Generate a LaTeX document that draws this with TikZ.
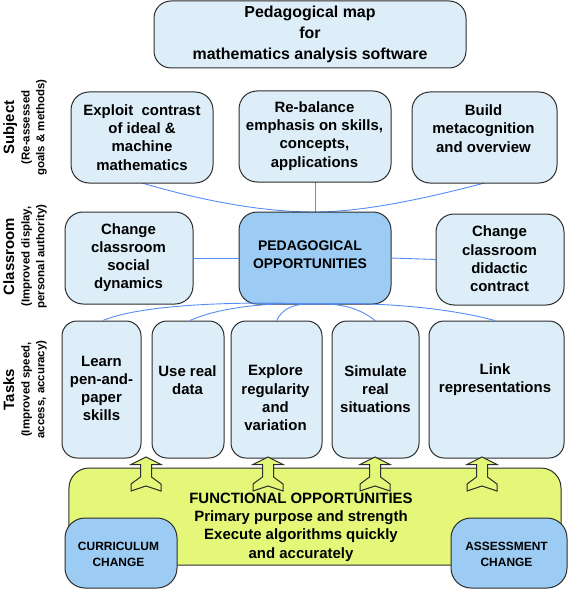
\documentclass[tikz,border=0pt]{standalone}
\usepackage{fontspec}
\setmainfont{Liberation Sans}
\definecolor{boxfill}{RGB}{221,238,248}
\definecolor{midfill}{RGB}{156,203,243}
\definecolor{yelfill}{RGB}{228,247,120}
\definecolor{edgegray}{RGB}{45,45,45}
\definecolor{linkblue}{RGB}{85,140,245}
\newcommand\mfBox{\fontsize{15}{18.3}\selectfont\bfseries}
\newcommand\mfTitle{\fontsize{16}{21}\selectfont\bfseries}
\newcommand\mfCaps{\fontsize{14}{17.5}\selectfont\bfseries}
\newcommand\mfSmall{\fontsize{12}{16}\selectfont\bfseries}
\newcommand\mfSide{\fontsize{15}{18}\selectfont\bfseries}
\newcommand\mfSub{\fontsize{11.5}{15}\selectfont\bfseries}
\begin{document}
\begin{tikzpicture}[x=1bp,y=-1bp,
  panel/.style={draw=edgegray, line width=1bp, rounded corners=15bp, fill=boxfill, inner sep=0pt, outer sep=0pt},
  darkpanel/.style={panel, fill=midfill},
  txt/.style={align=center, font=\mfBox, inner sep=0pt},
  sidemain/.style={rotate=90, anchor=north, font=\mfSide, inner sep=0pt},
  sidesub/.style={rotate=90, anchor=north, align=center, font=\mfSub, inner sep=0pt},
  linkline/.style={draw=linkblue, line width=0.9bp},
  uparrow/.style={draw=edgegray, line width=1bp, fill=yelfill, line join=miter}]
\useasboundingbox (0,0) rectangle (568,589);

% ---- title
\node[panel, minimum width=312bp, minimum height=67bp, rounded corners=17bp] (T) at (310,34.5) {};
\node[txt, font=\mfTitle] (Tt) at (310,34) {Pedagogical map\\for\\mathematics analysis software};

% ---- side labels
\node[sidemain] (s1) at (3,127.5) {Subject};
\node[sidesub] (s1b) at (21,127.5) {(Re-assessed\\goals \& methods)};
\node[sidemain] (s2) at (3,256.5) {Classroom};
\node[sidesub] (s2b) at (21,256.5) {(Improved display,\\personal authority)};
\node[sidemain] (s3) at (3,389.5) {Tasks};
\node[sidesub] (s3b) at (21,389.5) {(Improved speed,\\access, accuracy)};

% ---- connectors (under boxes)
\draw[linkline] (142,183) .. controls (200,200) and (260,212) .. (315,212);
\draw[linkline] (315,182) -- (315,212);
\draw[linkline] (484.5,183) .. controls (420,200) and (360,212) .. (315,212);

% ---- subject row
\node[panel, minimum width=142bp, minimum height=91bp, rounded corners=18bp] (A) at (142,137.5) {};
\node[txt] (At) at (142,137.5) {Exploit~ contrast\\of ideal \&\\machine\\mathematics};
\node[panel, minimum width=152bp, minimum height=91bp, rounded corners=18bp] (B) at (315,136.5) {};
\node[txt] (Bt) at (314.5,136) {Re-balance\\emphasis on skills,\\concepts,\\applications};
\node[panel, minimum width=145bp, minimum height=91bp, rounded corners=18bp] (C) at (484.5,137.5) {};
\node[txt] (Ct) at (483.5,128.5) {Build\\metacognition\\and overview};

% ---- classroom row
\node[panel, minimum width=128bp, minimum height=92bp, rounded corners=18bp] (D) at (129,258) {};
\node[txt] (Dt) at (128.5,257.5) {Change\\classroom\\social\\dynamics};
\node[darkpanel, minimum width=152bp, minimum height=92bp, rounded corners=18bp] (P) at (315,258) {};
\node[txt, font=\mfCaps] (Pt) at (310,254.5) {PEDAGOGICAL\\OPPORTUNITIES};
\node[panel, minimum width=128bp, minimum height=91bp, rounded corners=18bp] (E) at (500,259.5) {};
\node[txt] (Et) at (499.5,259) {Change\\classroom\\didactic\\contract};

\draw[linkline] (D.east) -- (P.west);
\draw[linkline] (P.east) -- (E.west);

% ---- task row
\node[panel, minimum width=79bp, minimum height=137bp] (L1) at (101.5,389.5) {};
\node[txt] (L1t) at (101.5,388.5) {Learn\\pen-and-\\paper\\skills};
\node[panel, minimum width=72bp, minimum height=137bp] (L2) at (188,389.5) {};
\node[txt] (L2t) at (187.5,380) {Use real\\data};
\node[panel, minimum width=91bp, minimum height=137bp] (L3) at (276.5,389.5) {};
\node[txt] (L3t) at (275.5,398) {Explore\\regularity\\and\\variation};
\node[panel, minimum width=87bp, minimum height=137bp] (L4) at (375.5,389.5) {};
\node[txt] (L4t) at (375.5,389) {Simulate\\real\\situations};
\node[panel, minimum width=135bp, minimum height=137bp] (L5) at (496.5,389.5) {};
\node[txt] (L5t) at (495,380) {Link\\representations};

% ---- connectors task row -> pedagogical
\draw[linkline] (103,320.5) .. controls (140,305) and (230,301) .. (P.south);
\draw[linkline] (190,320.5) .. controls (220,307) and (270,302) .. (P.south);
\draw[linkline] (L3.north) .. controls (282,308) and (295,303) .. (P.south);
\draw[linkline] (L4.north) .. controls (360,308) and (340,303) .. (P.south);
\draw[linkline] (495,320.5) .. controls (440,306) and (370,302) .. (P.south);

% ---- functional opportunities
\node[panel, fill=yelfill, minimum width=492bp, minimum height=97bp, rounded corners=20bp] (Y) at (315,516.5) {};
\node[txt] (Yt) at (301,527) {FUNCTIONAL OPPORTUNITIES\\Primary purpose and strength\\Execute algorithms quickly\\and accurately};

\foreach \cx in {146,268,375,482}{
  \draw[uparrow] (\cx,457) -- ++(15,7.5) -- ++(-9.5,0) -- ++(0,12.5) -- ++(9.5,7) -- ++(0,7)
    -- ++(-15,-5) -- ++(-15,5) -- ++(0,-7) -- ++(9.5,-7) -- ++(0,-12.5) -- ++(-9.5,0) -- cycle;
}

\node[darkpanel, minimum width=112bp, minimum height=70bp, rounded corners=20bp] (CU) at (121,553) {};
\node[txt, font=\mfSmall] (CUt) at (118.5,554) {CURRICULUM\\CHANGE};
\node[darkpanel, minimum width=116bp, minimum height=70bp, rounded corners=20bp] (AS) at (509,553) {};
\node[txt, font=\mfSmall] (ASt) at (506.5,554) {ASSESSMENT\\CHANGE};
\end{tikzpicture}
\end{document}
